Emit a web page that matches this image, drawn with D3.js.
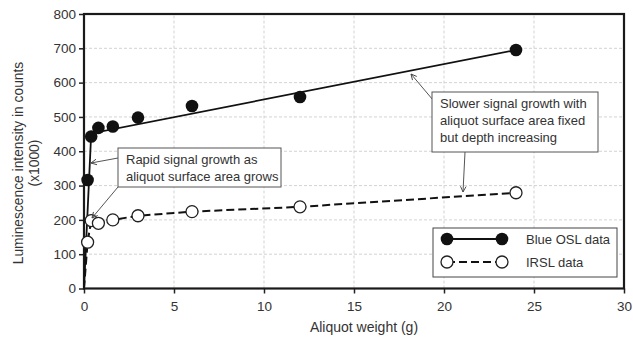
<!DOCTYPE html>
<html>
<head>
<meta charset="utf-8">
<script src="https://cdn.jsdelivr.net/npm/d3@7"></script>
<style>
  body { margin: 0; background: #fff; }
  svg { display: block; font-family: "Liberation Sans", Arial, sans-serif; }
</style>
</head>
<body>
<svg id="chart" width="633" height="337"></svg>
<script>
// aliquot weights (g)
const weights = [0.2, 0.4, 0.8, 1.6, 3, 6, 12, 24];
// luminescence (x1000 counts)
const blueOSL = [316, 443, 468, 472, 498, 532, 558, 695];
const irsl = [135, 198, 190, 200, 212, 224, 238, 279];
// drawn trend lines
const oslLineX = [0, 0.4, 24];
const oslLineY = [0, 452, 695];
const irslLineX = [0, 0.2, 0.4, 1.6, 3, 6, 12, 24];
const irslLineY = [0, 135, 198, 200, 212, 224, 238, 279];
const xTicks = [0, 5, 10, 15, 20, 25, 30];
const yTicks = [0, 100, 200, 300, 400, 500, 600, 700, 800];

const svg = d3.select("#chart");
const x = d3.scaleLinear().domain([0, 30]).range([84, 624]);
const y = d3.scaleLinear().domain([0, 800]).range([288.5, 14]);

// grid
const grid = svg.append("g").attr("stroke", "#c8c8c8").attr("stroke-dasharray", "3,2").attr("stroke-width", 0.8);
grid.selectAll(".gx").data(xTicks.slice(1, -1)).enter().append("line")
  .attr("x1", d => x(d)).attr("x2", d => x(d)).attr("y1", y(0)).attr("y2", y(800));
grid.selectAll(".gy").data(yTicks.slice(1, -1)).enter().append("line")
  .attr("y1", d => y(d)).attr("y2", d => y(d)).attr("x1", x(0)).attr("x2", x(30));

// axes
const xAxis = svg.append("g").attr("transform", `translate(0,${y(0)})`)
  .call(d3.axisBottom(x).tickValues(xTicks).tickSize(5).tickPadding(8));
const yAxis = svg.append("g").attr("transform", `translate(${x(0)},0)`)
  .call(d3.axisLeft(y).tickValues(yTicks).tickSize(5).tickPadding(3));
[xAxis, yAxis].forEach(a => {
  a.select(".domain").remove();
  a.selectAll(".tick line").attr("stroke", "#222").attr("stroke-width", 1.5);
  a.selectAll(".tick text").attr("font-size", 13.5).attr("fill", "#333")
    .attr("font-family", "Liberation Sans, Arial, sans-serif");
});

// frame
svg.append("rect").attr("x", x(0)).attr("y", y(800))
  .attr("width", x(30) - x(0)).attr("height", y(0) - y(800))
  .attr("fill", "none").attr("stroke", "#1a1a1a").attr("stroke-width", 2.2);

// axis titles
svg.append("text").attr("x", 364).attr("y", 332).attr("text-anchor", "middle")
  .attr("font-size", 14).attr("fill", "#333").text("Aliquot weight (g)");
svg.append("text").attr("transform", "translate(23,163) rotate(-90)").attr("text-anchor", "middle")
  .attr("font-size", 13.8).attr("fill", "#333").text("Luminescence intensity in counts");
svg.append("text").attr("transform", "translate(39,163) rotate(-90)").attr("text-anchor", "middle")
  .attr("font-size", 13.8).attr("fill", "#333").text("(x1000)");

// lines
const line = d3.line().x(d => x(d[0])).y(d => y(d[1]));
svg.append("path").datum(d3.zip(oslLineX, oslLineY)).attr("d", line)
  .attr("fill", "none").attr("stroke", "#111").attr("stroke-width", 1.8);
svg.append("path").datum(d3.zip(irslLineX, irslLineY)).attr("d", line)
  .attr("fill", "none").attr("stroke", "#111").attr("stroke-width", 2).attr("stroke-dasharray", "8,4");

// points
svg.append("g").selectAll("circle").data(d3.zip(weights, irsl)).enter().append("circle")
  .attr("cx", d => x(d[0])).attr("cy", d => y(d[1])).attr("r", 6)
  .attr("fill", "#fff").attr("stroke", "#222").attr("stroke-width", 1.3);
svg.append("g").selectAll("circle").data(d3.zip(weights, blueOSL)).enter().append("circle")
  .attr("cx", d => x(d[0])).attr("cy", d => y(d[1])).attr("r", 6.3)
  .attr("fill", "#111");

// annotations
svg.append("defs").append("marker").attr("id", "arr").attr("viewBox", "0 0 10 10")
  .attr("refX", 9).attr("refY", 5).attr("markerWidth", 7).attr("markerHeight", 7)
  .attr("orient", "auto").append("path").attr("d", "M1,1 L9,5 L1,9")
  .attr("fill", "none").attr("stroke", "#444").attr("stroke-width", 1.3);

function arrow(x1, y1, x2, y2) {
  svg.append("line").attr("x1", x1).attr("y1", y1).attr("x2", x2).attr("y2", y2)
    .attr("stroke", "#555").attr("stroke-width", 1).attr("marker-end", "url(#arr)");
}
function box(bx, by, w, h, lines) {
  svg.append("rect").attr("x", bx).attr("y", by).attr("width", w).attr("height", h)
    .attr("fill", "#fff").attr("stroke", "#555").attr("stroke-width", 1);
  lines.forEach((t, i) => svg.append("text").attr("x", bx + 8).attr("y", by + 16 + i * 17)
    .attr("font-size", 13).attr("fill", "#333").text(t));
}
arrow(118, 158, 91, 163);
arrow(118, 187, 92, 218);
box(118, 148, 163, 39, ["Rapid signal growth as", "aliquot surface area grows"]);
arrow(433, 100, 411, 74);
arrow(465, 152, 463, 192);
box(432, 92, 166, 60, ["Slower signal growth with", "aliquot surface area fixed", "but depth increasing"]);

// legend
const lg = svg.append("g");
lg.append("rect").attr("x", 433).attr("y", 228).attr("width", 184).attr("height", 49)
  .attr("fill", "#fff").attr("stroke", "#444").attr("stroke-width", 1);
lg.append("line").attr("x1", 447).attr("x2", 502).attr("y1", 239).attr("y2", 239)
  .attr("stroke", "#111").attr("stroke-width", 1.8);
lg.append("line").attr("x1", 447).attr("x2", 502).attr("y1", 262).attr("y2", 262)
  .attr("stroke", "#111").attr("stroke-width", 2).attr("stroke-dasharray", "8,4");
[447, 502].forEach(cx => {
  lg.append("circle").attr("cx", cx).attr("cy", 239).attr("r", 6.3).attr("fill", "#111");
  lg.append("circle").attr("cx", cx).attr("cy", 262).attr("r", 6).attr("fill", "#fff")
    .attr("stroke", "#222").attr("stroke-width", 1.3);
});
lg.append("text").attr("x", 526).attr("y", 244).attr("font-size", 13).attr("fill", "#333").text("Blue OSL data");
lg.append("text").attr("x", 526).attr("y", 267).attr("font-size", 13).attr("fill", "#333").text("IRSL data");
</script>
</body>
</html>
